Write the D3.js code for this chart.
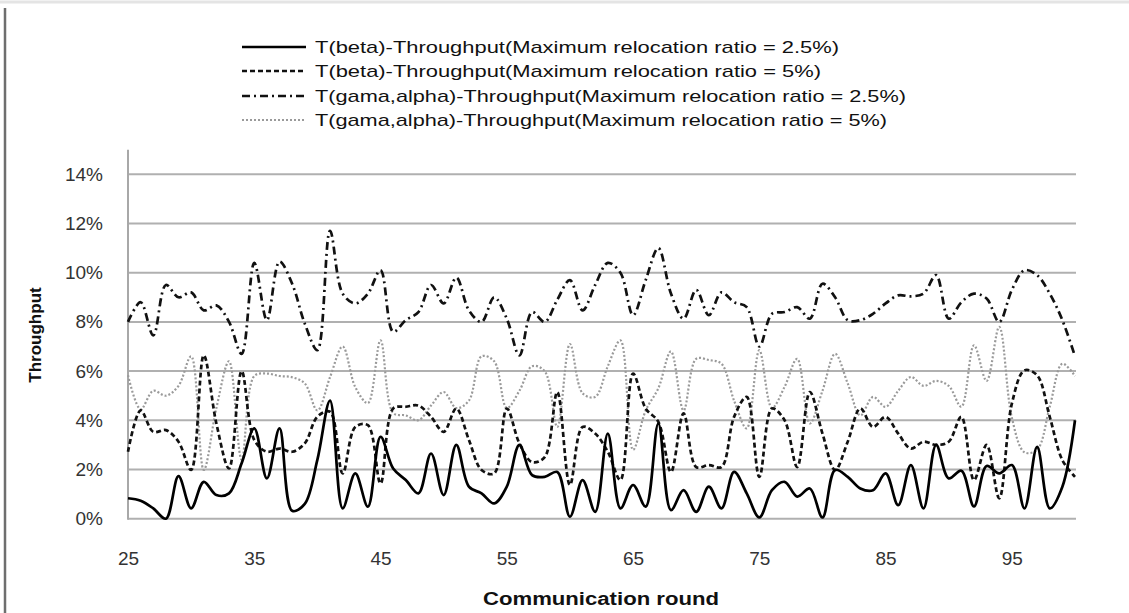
<!DOCTYPE html>
<html><head><meta charset="utf-8">
<script src="https://cdn.jsdelivr.net/npm/d3@7"></script>
<style>
html,body{margin:0;padding:0;background:#fff;}
svg{display:block;}
text{font-family:"Liberation Sans",Arial,sans-serif;}
</style></head>
<body><svg id="c" width="1129" height="613"></svg>
<script>
// ---- data ----
const rounds = d3.range(25, 101);
const betaThroughput25 = [0.83,0.73,0.42,0.0,1.73,0.42,1.5,0.96,1.03,2.25,3.67,1.64,3.67,0.32,0.6,2.4,4.8,0.42,1.84,0.49,3.33,2.04,1.57,1.03,2.65,0.96,3.0,1.3,1.03,0.62,1.3,3.0,1.77,1.7,1.9,0.08,1.57,0.28,3.46,0.42,1.37,0.49,3.87,0.35,1.16,0.28,1.3,0.42,1.9,1.03,0.05,1.16,1.5,0.9,1.23,0.05,1.98,1.7,1.23,1.16,1.84,0.55,2.18,0.42,3.0,1.64,1.95,0.5,2.14,1.84,2.18,0.42,2.92,0.42,1.3,4.0];
const betaThroughput5 = [2.72,4.4,3.53,3.6,3.13,1.98,6.64,3.87,2.04,6.0,3.2,2.72,2.85,2.72,3.06,4.15,4.35,1.84,3.73,3.8,1.43,4.48,4.55,4.6,4.14,3.53,4.48,3.2,1.98,1.84,4.48,3.06,2.3,2.5,5.15,1.37,3.73,3.46,2.72,1.57,5.9,4.48,3.94,1.9,4.28,2.1,2.18,2.1,4.14,4.95,1.7,4.48,4.0,2.1,5.15,3.46,1.98,3.13,4.48,3.73,4.14,3.46,2.85,3.13,3.0,3.13,4.14,1.57,3.0,0.83,4.68,6.03,5.83,4.14,2.38,1.7];
const gamaAlphaThroughput25 = [8.0,8.8,7.45,9.5,9.0,9.2,8.47,8.67,8.0,6.7,10.4,8.07,10.45,9.55,7.93,6.85,11.7,9.15,8.75,9.15,10.1,7.6,8.07,8.4,9.5,8.75,9.8,8.47,8.0,9.0,8.13,6.64,8.4,8.0,8.9,9.7,8.47,9.5,10.4,10.0,8.27,9.7,11.0,9.15,8.13,9.3,8.27,9.2,8.8,8.6,7.0,8.33,8.4,8.6,8.13,9.55,9.0,8.07,8.07,8.33,8.75,9.08,9.04,9.15,9.9,8.13,8.8,9.15,8.95,8.0,9.3,10.1,9.9,9.15,8.07,6.6];
const gamaAlphaThroughput5 = [5.83,4.45,5.2,5.0,5.4,6.6,1.98,4.5,6.4,2.4,5.8,5.9,5.8,5.75,5.5,4.4,5.75,7.0,5.35,4.7,7.25,4.3,4.2,4.0,4.6,5.15,4.5,4.8,6.6,6.4,4.5,5.2,6.2,6.0,3.73,7.1,5.1,4.95,6.2,7.25,2.8,4.4,5.3,6.8,4.4,6.5,6.45,6.3,4.8,3.67,6.85,4.5,5.36,6.5,3.87,5.2,6.7,5.5,4.2,4.95,4.55,5.2,5.76,5.4,5.6,5.4,4.55,7.05,5.6,7.8,4.1,2.7,2.8,4.55,6.3,5.8];
const seriesNames = [
  "T(beta)-Throughput(Maximum relocation ratio = 2.5%)",
  "T(beta)-Throughput(Maximum relocation ratio = 5%)",
  "T(gama,alpha)-Throughput(Maximum relocation ratio = 2.5%)",
  "T(gama,alpha)-Throughput(Maximum relocation ratio = 5%)"
];
const yTicks = [0,2,4,6,8,10,12,14];
const xTicks = [25,35,45,55,65,75,85,95];

// ---- chart ----
const svg = d3.select("#c");
const x = d3.scaleLinear().domain([25,100]).range([128,1075]);
const y = d3.scaleLinear().domain([0,15]).range([518.7,149.7]);

// frame lines of the page
svg.append("line").attr("x1",0).attr("x2",1129).attr("y1",2).attr("y2",2).attr("stroke","#e4e4e4").attr("stroke-width",3);
svg.append("line").attr("x1",5).attr("x2",5).attr("y1",8).attr("y2",613).attr("stroke","#6e6e6e").attr("stroke-width",2.5);

// gridlines
svg.append("g").selectAll("line").data(yTicks).join("line")
  .attr("x1",x(25)).attr("x2",x(100)+1).attr("y1",d=>y(d)).attr("y2",d=>y(d))
  .attr("stroke","#b0b0b0").attr("stroke-width",2);
// y axis line
svg.append("line").attr("x1",x(25)).attr("x2",x(25)).attr("y1",y(15)).attr("y2",y(0)+1)
  .attr("stroke","#a8a8a8").attr("stroke-width",2);

// y axis labels
const yAxis = d3.axisLeft(y).tickValues(yTicks).tickSize(0).tickPadding(25).tickFormat(d=>d+"%");
const gy = svg.append("g").attr("transform",`translate(${x(25)},0)`).call(yAxis);
gy.select(".domain").remove();
gy.selectAll("text").attr("font-size",19).attr("fill","#333").attr("font-family","Liberation Sans, Arial, sans-serif");

// x axis labels
const xAxis = d3.axisBottom(x).tickValues(xTicks).tickSize(0).tickPadding(33).tickFormat(d3.format("d"));
const gx = svg.append("g").attr("transform",`translate(0,${y(0)})`).call(xAxis);
gx.select(".domain").remove();
gx.selectAll("text").attr("font-size",19).attr("fill","#333").attr("font-family","Liberation Sans, Arial, sans-serif");

// axis titles
svg.append("text").attr("x",601).attr("y",605).attr("text-anchor","middle")
  .attr("font-size",18).attr("font-weight","bold").attr("fill","#111")
  .attr("textLength",236).attr("lengthAdjust","spacingAndGlyphs").text("Communication round");
svg.append("text").attr("transform","translate(41,335) rotate(-90)").attr("text-anchor","middle")
  .attr("font-size",17).attr("font-weight","bold").attr("fill","#111").text("Throughput");

// series
const styles = [
  {data:betaThroughput25, stroke:"#000", width:2.7, dash:null},
  {data:betaThroughput5, stroke:"#111", width:2.7, dash:"5,3"},
  {data:gamaAlphaThroughput25, stroke:"#111", width:2.7, dash:"8,4,2,4"},
  {data:gamaAlphaThroughput5, stroke:"#9a9a9a", width:2.2, dash:"2,2"}
];
const line = d3.line().x((d,i)=>x(rounds[i])).y(d=>y(d)).curve(d3.curveCatmullRom.alpha(0.5));
const order = [3,2,1,0];
order.forEach(k=>{
  const s = styles[k];
  svg.append("path").datum(s.data).attr("d",line).attr("fill","none")
    .attr("stroke",s.stroke).attr("stroke-width",s.width)
    .attr("stroke-dasharray",s.dash).attr("stroke-linejoin","round");
});

// legend
const legendY = [47,71,96,120];
const legendW = [524,506,591,572];
const lg = svg.append("g");
seriesNames.forEach((name,i)=>{
  const s = styles[i];
  lg.append("line").attr("x1",242).attr("x2",306).attr("y1",legendY[i]).attr("y2",legendY[i])
    .attr("stroke",s.stroke).attr("stroke-width",s.width).attr("stroke-dasharray",s.dash);
  lg.append("text").attr("x",315).attr("y",legendY[i]+6).attr("font-size",17).attr("fill","#111")
    .attr("textLength",legendW[i]).attr("lengthAdjust","spacingAndGlyphs").text(name);
});
</script></body></html>
